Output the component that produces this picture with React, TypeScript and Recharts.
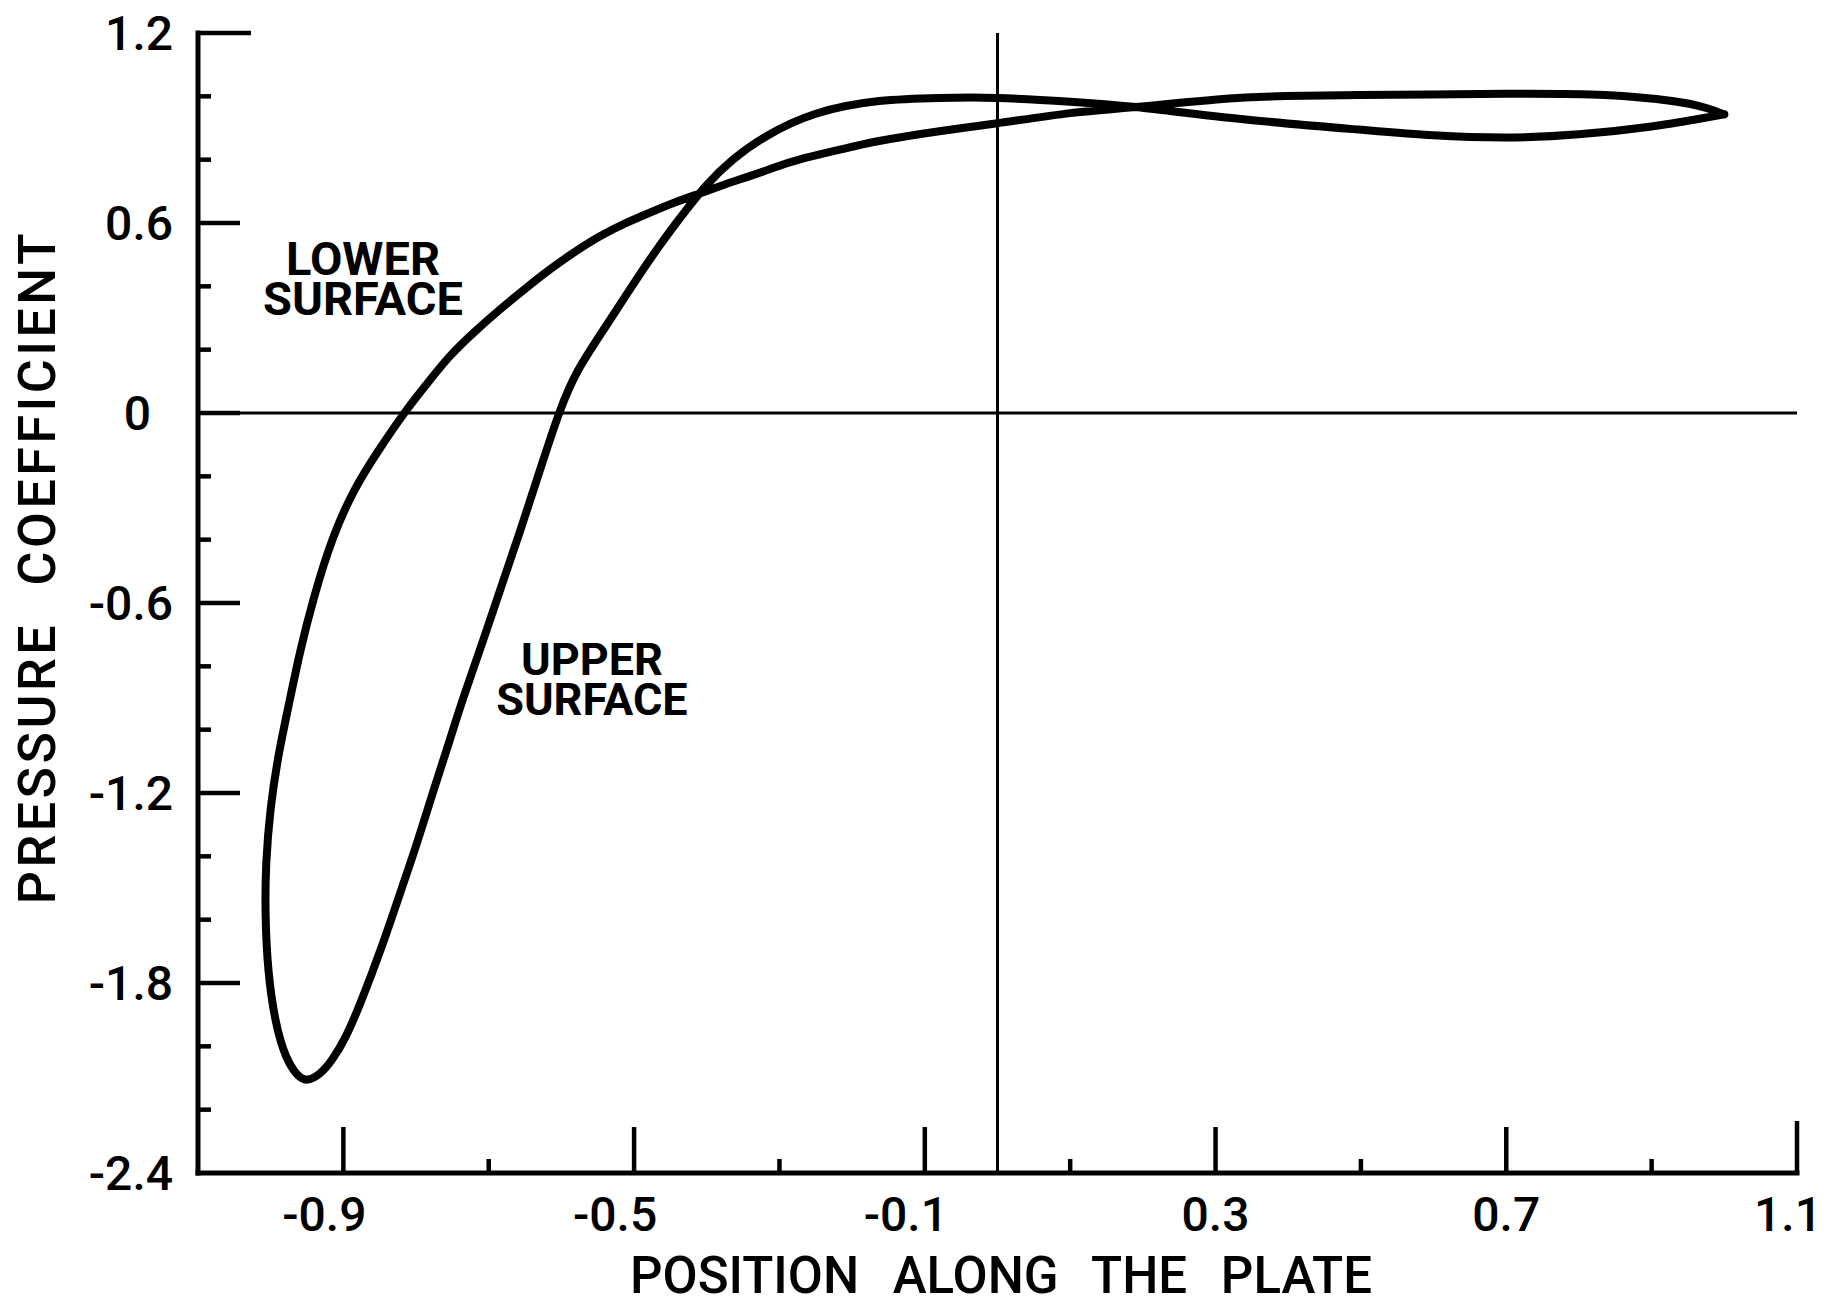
import React from "react";
import {
  ComposedChart,
  Line,
  XAxis,
  YAxis,
  ReferenceLine,
  ReferenceDot,
} from "recharts";

// pressure coefficient along the plate
// both surfaces run from the leading edge (x ~ -1) to the trailing edge (x = 1)
const upperSurface = [
  { x: -1.007, y: -1.58 },
  { x: -1.003, y: -1.76 },
  { x: -0.993, y: -1.92 },
  { x: -0.979, y: -2.03 },
  { x: -0.963, y: -2.09 },
  { x: -0.949, y: -2.105 },
  { x: -0.932, y: -2.085 },
  { x: -0.915, y: -2.04 },
  { x: -0.897, y: -1.97 },
  { x: -0.876, y: -1.86 },
  { x: -0.848, y: -1.69 },
  { x: -0.821, y: -1.51 },
  { x: -0.799, y: -1.36 },
  { x: -0.777, y: -1.2 },
  { x: -0.756, y: -1.05 },
  { x: -0.735, y: -0.9 },
  { x: -0.708, y: -0.72 },
  { x: -0.683, y: -0.55 },
  { x: -0.655, y: -0.36 },
  { x: -0.628, y: -0.17 },
  { x: -0.603, y: 0 },
  { x: -0.577, y: 0.135 },
  { x: -0.54, y: 0.27 },
  { x: -0.503, y: 0.4 },
  { x: -0.466, y: 0.525 },
  { x: -0.432, y: 0.63 },
  { x: -0.4, y: 0.72 },
  { x: -0.364, y: 0.8 },
  { x: -0.318, y: 0.874 },
  { x: -0.25, y: 0.945 },
  { x: -0.163, y: 0.985 },
  { x: -0.08, y: 0.995 },
  { x: 0.0, y: 0.995 },
  { x: 0.1, y: 0.983 },
  { x: 0.19, y: 0.966 },
  { x: 0.341, y: 0.927 },
  { x: 0.497, y: 0.895 },
  { x: 0.6, y: 0.877 },
  { x: 0.699, y: 0.87 },
  { x: 0.8, y: 0.88 },
  { x: 0.9, y: 0.905 },
  { x: 0.96, y: 0.927 },
  { x: 1.0, y: 0.943 },
];

const lowerSurface = [
  { x: -1.007, y: -1.58 },
  { x: -1.006, y: -1.42 },
  { x: -1.0, y: -1.25 },
  { x: -0.989, y: -1.08 },
  { x: -0.975, y: -0.92 },
  { x: -0.959, y: -0.75 },
  { x: -0.94, y: -0.58 },
  { x: -0.915, y: -0.4 },
  { x: -0.885, y: -0.245 },
  { x: -0.852, y: -0.12 },
  { x: -0.816, y: 0 },
  { x: -0.784, y: 0.095 },
  { x: -0.754, y: 0.178 },
  { x: -0.72, y: 0.255 },
  { x: -0.685, y: 0.326 },
  { x: -0.65, y: 0.392 },
  { x: -0.616, y: 0.453 },
  { x: -0.582, y: 0.508 },
  { x: -0.547, y: 0.558 },
  { x: -0.513, y: 0.598 },
  { x: -0.479, y: 0.632 },
  { x: -0.445, y: 0.664 },
  { x: -0.41, y: 0.693 },
  { x: -0.376, y: 0.721 },
  { x: -0.341, y: 0.748 },
  { x: -0.307, y: 0.775 },
  { x: -0.273, y: 0.8 },
  { x: -0.218, y: 0.831 },
  { x: -0.163, y: 0.859 },
  { x: -0.08, y: 0.89 },
  { x: 0.0, y: 0.915 },
  { x: 0.1, y: 0.947 },
  { x: 0.19, y: 0.966 },
  { x: 0.341, y: 0.996 },
  { x: 0.497, y: 1.004 },
  { x: 0.699, y: 1.008 },
  { x: 0.836, y: 1.004 },
  { x: 0.928, y: 0.985 },
  { x: 0.974, y: 0.964 },
  { x: 1.0, y: 0.943 },
];

const xTicks = [-0.9, -0.7, -0.5, -0.3, -0.1, 0.1, 0.3, 0.5, 0.7, 0.9, 1.1];
const xTickLabels = ["-0.9", "-0.5", "-0.1", "0.3", "0.7", "1.1"];
const yTicks = [
  1.2, 1.0, 0.8, 0.6, 0.4, 0.2, 0, -0.2, -0.4, -0.6, -0.8, -1.0, -1.2, -1.4,
  -1.6, -1.8, -2.0, -2.2, -2.4,
];
const yTickLabels = ["1.2", "0.6", "0", "-0.6", "-1.2", "-1.8", "-2.4"];

// one closed loop: trailing edge -> upper surface -> leading edge -> lower surface -> trailing edge
const loop = [...upperSurface].reverse().concat(lowerSurface.slice(1));

const FONT = "Roboto, 'DejaVu Sans', sans-serif";

function XTick(props: any) {
  const { x, y, payload } = props;
  const label = String(payload.value);
  const major = xTickLabels.includes(label);
  const len = label === "1.1" ? 52 : major ? 46 : 14;
  let dx = 0;
  if (label.startsWith("-")) dx = -19;
  if (label === "1.1") dx = -9;
  return (
    <g>
      <line x1={x} y1={y} x2={x} y2={y - len} stroke="#000" strokeWidth={4.5} />
      {major && (
        <text
          x={x + dx}
          y={y + 58}
          textAnchor="middle"
          fontFamily={FONT}
          fontWeight={500}
          fontSize={48}
          fill="#000"
        >
          {label}
        </text>
      )}
    </g>
  );
}

function YTick(props: any) {
  const { x, y, payload } = props;
  const label = String(payload.value);
  const major = yTickLabels.includes(label);
  let len = major ? 42 : 13;
  if (label === "1.2") len = 53;
  if (label === "-2.4") len = 0;
  return (
    <g>
      {len > 0 && (
        <line x1={x} y1={y} x2={x + len} y2={y} stroke="#000" strokeWidth={4.5} />
      )}
      {major && (
        <text
          x={x - (label === "0" ? 47 : 25)}
          y={y}
          dy={17}
          textAnchor="end"
          fontFamily={FONT}
          fontWeight={500}
          fontSize={48}
          fill="#000"
        >
          {label}
        </text>
      )}
    </g>
  );
}

function surfaceLabel(first: string, second: string, size: number) {
  return (props: any) => {
    const vb = props.viewBox || {};
    const cx = vb.x + (vb.width || 0) / 2;
    const cy = vb.y + (vb.height || 0) / 2;
    return (
      <text textAnchor="middle" fontFamily={FONT} fontWeight={700} fontSize={size} fill="#000">
        <tspan x={cx} y={cy - 20}>
          {first}
        </tspan>
        <tspan x={cx} y={cy + 20}>
          {second}
        </tspan>
      </text>
    );
  };
}

export default function App() {
  return (
    <div style={{ position: "absolute", left: 0, top: 0, background: "#fff" }}>
      <ComposedChart
        width={1825}
        height={1306}
        margin={{ top: 33, right: 28, bottom: 132, left: 197 }}
      >
        <XAxis
          dataKey="x"
          type="number"
          domain={[-1.1, 1.1]}
          ticks={xTicks}
          interval={0}
          height={1}
          tickSize={0}
          tickMargin={0}
          tickLine={false}
          tick={<XTick />}
          axisLine={{ stroke: "#000", strokeWidth: 5, strokeLinecap: "square" }}
          label={() => (
            <text
              x={1001}
              y={1293}
              textAnchor="middle"
              fontFamily={FONT}
              fontWeight={500}
              fontSize={51}
              wordSpacing={21}
              fill="#000"
            >
              POSITION ALONG THE PLATE
            </text>
          )}
        />
        <YAxis
          type="number"
          domain={[-2.4, 1.2]}
          ticks={yTicks}
          interval={0}
          width={1}
          tickSize={0}
          tickMargin={0}
          tickLine={false}
          tick={<YTick />}
          axisLine={{ stroke: "#000", strokeWidth: 5, strokeLinecap: "square" }}
          label={() => (
            <text
              x={55}
              y={567}
              transform="rotate(-90 55 567)"
              textAnchor="middle"
              fontFamily={FONT}
              fontWeight={500}
              fontSize={52}
              letterSpacing={3.5}
              wordSpacing={20}
              fill="#000"
            >
              PRESSURE COEFFICIENT
            </text>
          )}
        />
        <ReferenceLine y={0} stroke="#000" strokeWidth={3} />
        <ReferenceLine x={0} stroke="#000" strokeWidth={3} />
        <Line
          data={loop}
          dataKey="y"
          name="pressure coefficient"
          type="natural"
          stroke="#000"
          strokeWidth={8}
          strokeLinejoin="round"
          strokeLinecap="round"
          dot={false}
          activeDot={false}
          isAnimationActive={false}
        />
        <ReferenceDot
          x={-0.873}
          y={0.3726}
          r={1}
          fill="none"
          stroke="none"
          label={surfaceLabel("LOWER", "SURFACE", 47)}
        />
        <ReferenceDot
          x={-0.558}
          y={-0.89}
          r={1}
          fill="none"
          stroke="none"
          label={surfaceLabel("UPPER", "SURFACE", 45)}
        />
      </ComposedChart>
    </div>
  );
}
